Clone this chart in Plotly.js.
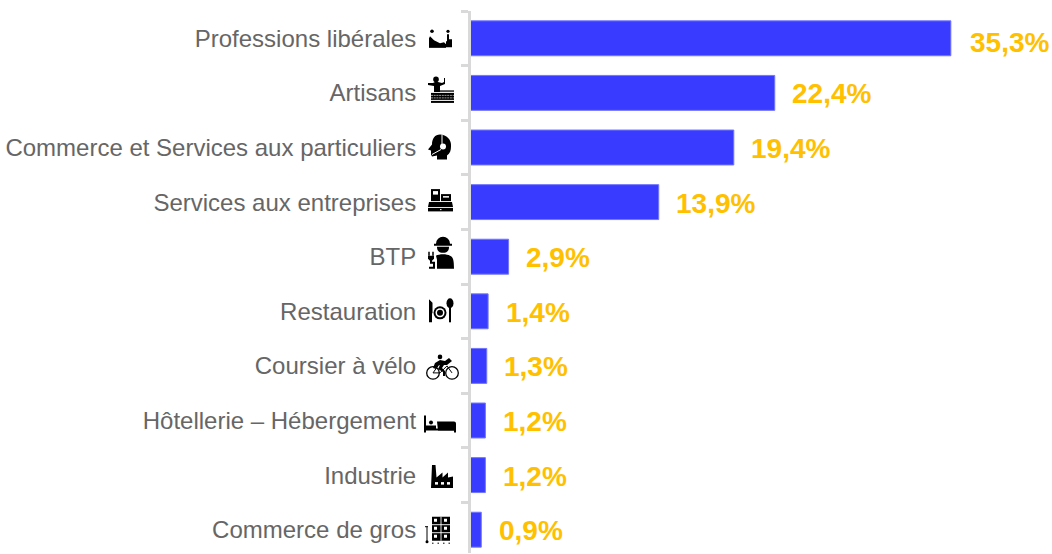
<!DOCTYPE html>
<html><head><meta charset="utf-8">
<script src="https://cdn.plot.ly/plotly-3.0.1.min.js"></script>
<style>html,body{margin:0;padding:0;background:#fff;overflow:hidden}</style>
</head><body><div id="chart" style="width:1052px;height:554px"></div>
<script>
const categories = ["Professions libérales","Artisans","Commerce et Services aux particuliers","Services aux entreprises","BTP","Restauration","Coursier à vélo","Hôtellerie – Hébergement","Industrie","Commerce de gros"];
const values = [35.3,22.4,19.4,13.9,2.9,1.4,1.3,1.2,1.2,0.9];
const valueLabels = ["35,3%","22,4%","19,4%","13,9%","2,9%","1,4%","1,3%","1,2%","1,2%","0,9%"];

// Pictograms, one per category
const icons = [
 '<circle cx="9" cy="11" r="1.800"/><circle cx="25" cy="11" r="1.600"/><path d="M6 27v-9l1-2 4 4 6 3 4-1 2 2v3z"/><path d="M24 14h2v5h3v8h-6v-6h1z"/><path d="M6 27h17" stroke="#000"/>',
 '<circle cx="13" cy="4.500" r="2.800"/><path d="M5 8h5l2-1h3l4 1 2-1V3h1v6l-5 2v6H11v-6L5 10z"/><rect x="13" y="15.500" width="18" height="1.300"/><path d="M8 18h23v7H8z"/><path d="M8 20.500h23M8 23h23" stroke="#fff" stroke-width=".6" stroke-dasharray="2 .7"/><rect x="8" y="26" width="23" height="2"/>',
 '<path d="M17 5a11 11 0 0 1 11 12c0 4-1 7-4 9v4H14v-4l-5 1-1-2v-4l-3-1 4-5c0-6 3-10 8-10z"/><path d="M19 5v10M18 20l-9 5" stroke="#fff" stroke-width="1" fill="none"/><circle cx="20" cy="17" r="3" fill="#fff"/>',
 '<rect x="8" y="5" width="9" height="12"/><rect x="10" y="7" width="5" height="3.500" fill="#fff"/><path d="M18 10h10v7H18z"/><rect x="20" y="12" width="6" height="1.500" fill="#fff"/><path d="M6 18h23l1 5H5z"/><rect x="5" y="23.800" width="25" height="3.500"/><rect x="17" y="25" width="1.500" height="1" fill="#fff"/>',
 '<path d="M13 5a7 7 0 0 1 14 0h2v2H11V5z"/><path d="M14 8h12c0 4-2 6-6 6s-6-2-6-6z"/><path d="M13 17c3-2 11-2 14 0 3 1 4 4 4 13H14v-9z"/><path d="M5 17h6v3l-2 2v1h3v7H6v-2h4v-3H7v-3l-2-2z"/><path d="M6 13v4M10 13v4" stroke="#000" stroke-width="1.500"/>',
 '<path d="M6 6l3.500 3.500V20H9v9H6z"/><circle cx="17" cy="19.500" r="6.500"/><circle cx="17" cy="19.500" r="4.500" fill="#fff"/><circle cx="17" cy="19.500" r="3"/><ellipse cx="27" cy="10" rx="3.500" ry="5"/><rect x="26" y="14" width="2" height="15"/>',
 '<circle cx="10" cy="25" r="6.300" fill="none" stroke="#000" stroke-width="1.300"/><circle cx="29" cy="25" r="6.300" fill="none" stroke="#000" stroke-width="1.300"/><circle cx="17" cy="9" r="2.300"/><path d="M12 15l5-3 5 1 4-3 3 3-5 4-3 0-2 3 3 3v5h-2v-4l-5-3 2-4-2 1-2 3-3-1z"/><path d="M10 25l5-7M29 25l-5-7-7 7H10" fill="none" stroke="#000" stroke-width="1"/>',
 '<rect x="1" y="13" width="2" height="17"/><circle cx="8" cy="20" r="2"/><path d="M3 23h10v4H3z"/><path d="M14 19h17a2 2 0 0 1 2 2v9h-2v-2H15z"/><rect x="3" y="26" width="30" height="2"/>',
 '<path d="M9 8h3.500l1 12.500 6-5v5l5.500-5v5l5-1V31H8z"/><rect x="12" y="25" width="3" height="2.500" fill="#fff"/><rect x="18" y="25" width="3" height="2.500" fill="#fff"/><rect x="24" y="25" width="3" height="2.500" fill="#fff"/>',
 '<path d="M9 5h18v24H9z"/><path d="M9 13h18M9 21h18M18 5v24" stroke="#fff" stroke-width=".9"/><path d="M11 7h3v3h-3zM21 7h3v3h-3zM11 15h3v3h-3zM21 15h3v3h-3zM11 23h3v3h-3zM21 23h3v3h-3z" fill="#fff"/><path d="M4 15v15" stroke="#000" stroke-width="1"/><path d="M2 15h3" stroke="#000" stroke-width="1"/><path d="M9 31.500h18" stroke="#000" stroke-width="1" stroke-dasharray="1.500 4"/><circle cx="4" cy="30" r="1.500"/>'
];
const iconURI = s => 'data:image/svg+xml,' + encodeURIComponent('<svg xmlns="http://www.w3.org/2000/svg" viewBox="-4 -4 44 44" width="44" height="44">' + s + '</svg>');

const ML = 471, W = 1052, H = 554, MT = 11, MB = 1;
const pxPerPct = 13.65;
const xMin = 2 / pxPerPct;                 // zero sits just behind the axis line
const xMax = xMin + (W - ML) / pxPerPct;
const band = 54.6;
const ICON = 44;

Plotly.newPlot('chart', [{
  type: 'bar', orientation: 'h',
  y: categories, x: values,
  width: 0.64,
  marker: {color: '#393CFF', line: {color: '#7376FF', width: 1}},
  hoverinfo: 'none'
}], {
  width: W, height: H, showlegend: false,
  margin: {l: ML, r: 0, t: MT, b: MB, pad: 0},
  paper_bgcolor: '#fff', plot_bgcolor: '#fff',
  xaxis: {range: [xMin, xMax], visible: false, fixedrange: true},
  yaxis: {
    type: 'category', categoryorder: 'array', categoryarray: categories,
    range: [(H - MT - MB) / band - 0.5, -0.5],
    showgrid: false, zeroline: false, showline: true, linecolor: '#D9D9D9', linewidth: 3,
    ticks: 'outside', tickson: 'boundaries', ticklen: 7, tickcolor: '#D9D9D9', tickwidth: 3,
    ticklabelstandoff: 47,
    tickfont: {family: '"Liberation Sans", Arial, sans-serif', size: 24, color: '#666666'},
    fixedrange: true
  },
  annotations: categories.map((c, i) => ({
    xref: 'x', yref: 'y', x: values[i], y: c, xanchor: 'left', yanchor: 'middle',
    xshift: i === 0 ? 17 : 15.5, yshift: i === 0 ? -4 : -1, text: valueLabels[i], showarrow: false,
    font: {family: '"Liberation Sans", Arial, sans-serif', size: 28, color: '#FFC000', weight: 700}
  })),
  images: categories.map((c, i) => ({
    source: iconURI(icons[i]), xref: 'paper', yref: 'y',
    x: (441 - ICON / 2 - ML) / (W - ML), y: i, sizex: ICON / (W - ML), sizey: ICON / band,
    xanchor: 'left', yanchor: 'middle', sizing: 'stretch', layer: 'above'
  }))
}, {displayModeBar: false, staticPlot: true});
</script></body></html>
